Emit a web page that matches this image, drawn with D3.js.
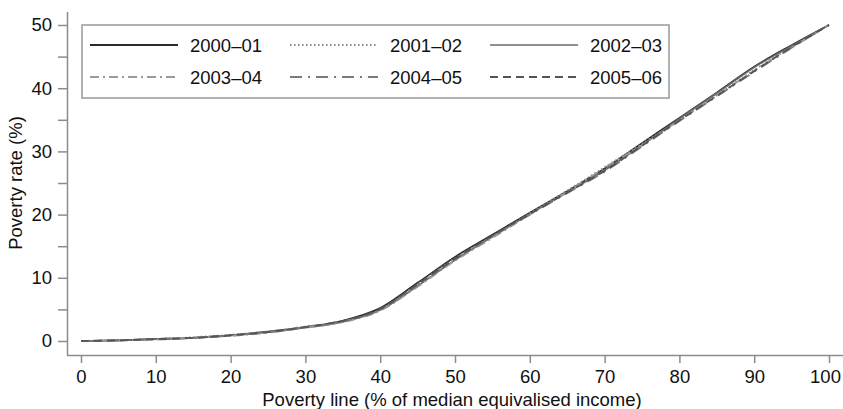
<!DOCTYPE html>
<html><head><meta charset="utf-8">
<script src="https://cdn.jsdelivr.net/npm/d3@7/dist/d3.min.js"></script>
<style>body{margin:0;background:#fff;}svg{display:block;font-family:"Liberation Sans",Arial,sans-serif;}</style>
</head><body>
<svg id="c" width="843" height="409"></svg>
<script>
const povertyLine = [0,5,10,15,20,25,30,35,40,45,50,55,60,65,70,75,80,85,90,95,100];
const seriesNames = ["2000–01","2001–02","2002–03","2003–04","2004–05","2005–06"];
const s2000 = [0,0.1,0.3,0.5,0.9,1.5,2.2,3.2,5.2,9.2,13.3,16.8,20.3,23.7,27.3,31.3,35.3,39.3,43.4,46.8,50];
const s2001 = [0,0.1,0.3,0.6,1.0,1.5,2.3,3.1,5.0,9.0,13.1,16.6,20.2,23.8,27.5,31.2,35.0,38.9,42.9,46.5,50];
const s2002 = [0,0.1,0.3,0.5,0.9,1.4,2.1,3.0,4.9,8.7,12.8,16.5,20.1,23.5,27.0,31.0,35.2,39.2,43.3,46.7,50];
const s2003 = [0,0.1,0.2,0.5,0.8,1.3,2.1,3.0,4.8,8.6,12.7,16.3,20.0,23.6,27.4,31.0,34.9,38.8,42.8,46.4,50];
const s2004 = [0,0.1,0.3,0.5,0.9,1.4,2.2,3.1,4.9,8.8,12.9,16.5,20.0,23.4,26.8,30.8,34.8,38.7,42.6,46.4,50];
const s2005 = [0,0.1,0.3,0.5,0.9,1.4,2.2,3.2,5.1,9.0,13.0,16.7,20.1,23.5,26.9,30.9,34.9,38.8,42.7,46.5,50];
const xTicks = [0,10,20,30,40,50,60,70,80,90,100];
const yTicks = [0,10,20,30,40,50];
const yMinorTicks = [5,15,25,35,45];

const allSeries = [s2000,s2001,s2002,s2003,s2004,s2005];
const styles = [
  {stroke:"#2a2a2a", w:1.8, dash:null},
  {stroke:"#8a8a8a", w:1.8, dash:"1.5,2.5"},
  {stroke:"#6a6a6a", w:1.6, dash:null},
  {stroke:"#9a9a9a", w:1.8, dash:"9,4,2,4"},
  {stroke:"#7a7a7a", w:1.8, dash:"12,6,2,6"},
  {stroke:"#555", w:1.8, dash:"8,5"}
];
const FS = "18.5px";

const svg = d3.select("#c");
const x = d3.scaleLinear().domain([0,100]).range([81,829]);
const y = d3.scaleLinear().domain([0,50]).range([341,25]);
const axisColor = "#8c8c8c";

svg.append("line").attr("x1",67).attr("x2",843).attr("y1",355.5).attr("y2",355.5).attr("stroke",axisColor).attr("stroke-width",1.5);
svg.append("line").attr("x1",67.5).attr("x2",67.5).attr("y1",12).attr("y2",356).attr("stroke",axisColor).attr("stroke-width",1.5);

const xAxis = d3.axisBottom(x).tickValues(xTicks).tickSize(7).tickPadding(7).tickFormat(d3.format("d"));
const gx = svg.append("g").attr("transform","translate(0,356)").call(xAxis);
gx.select(".domain").remove();
gx.selectAll(".tick line").attr("stroke",axisColor).attr("stroke-width",1.5);
gx.selectAll(".tick text").attr("fill","#111").style("font-size",FS).style("font-family","'Liberation Sans',Arial,sans-serif");
gx.selectAll(".tick text").filter(d=>d===100).attr("dx",-4);

const yAxis = d3.axisLeft(y).tickValues(yTicks).tickSize(9).tickPadding(6).tickFormat(d3.format("d"));
const gy = svg.append("g").attr("transform","translate(67,0)").call(yAxis);
gy.select(".domain").remove();
gy.selectAll(".tick line").attr("stroke",axisColor).attr("stroke-width",1.5);
gy.selectAll(".tick text").attr("fill","#111").style("font-size",FS).style("font-family","'Liberation Sans',Arial,sans-serif");
const gym = svg.append("g").attr("transform","translate(67,0)").call(d3.axisLeft(y).tickValues(yMinorTicks).tickSize(9).tickFormat(""));
gym.select(".domain").remove();
gym.selectAll(".tick line").attr("stroke",axisColor).attr("stroke-width",1.5);

svg.append("text").attr("x",452).attr("y",406).attr("text-anchor","middle").attr("fill","#111").style("font-size",FS).text("Poverty line (% of median equivalised income)");
svg.append("text").attr("transform","translate(22,183) rotate(-90)").attr("text-anchor","middle").attr("fill","#111").style("font-size",FS).text("Poverty rate (%)");

const line = d3.line().x((d,i)=>x(povertyLine[i])).y(d=>y(d)).curve(d3.curveMonotoneX);
allSeries.forEach((s,i)=>{
  const st = styles[i];
  svg.append("path").datum(s).attr("d",line).attr("fill","none")
    .attr("stroke",st.stroke).attr("stroke-width",st.w)
    .attr("stroke-dasharray",st.dash);
});

svg.append("rect").attr("x",82).attr("y",25).attr("width",587).attr("height",73)
  .attr("fill","#fff").attr("stroke","#999").attr("stroke-width",1.5);
seriesNames.forEach((n,i)=>{
  const col = i%3, row = Math.floor(i/3);
  const lx = 90 + col*200, ly = 45 + row*32;
  const st = styles[i];
  svg.append("line").attr("x1",lx).attr("x2",lx+88).attr("y1",ly).attr("y2",ly)
    .attr("stroke",st.stroke).attr("stroke-width",st.w).attr("stroke-dasharray",st.dash);
  svg.append("text").attr("x",lx+100).attr("y",ly+6.5).attr("fill","#111").style("font-size",FS).text(n);
});
</script>
</body></html>
